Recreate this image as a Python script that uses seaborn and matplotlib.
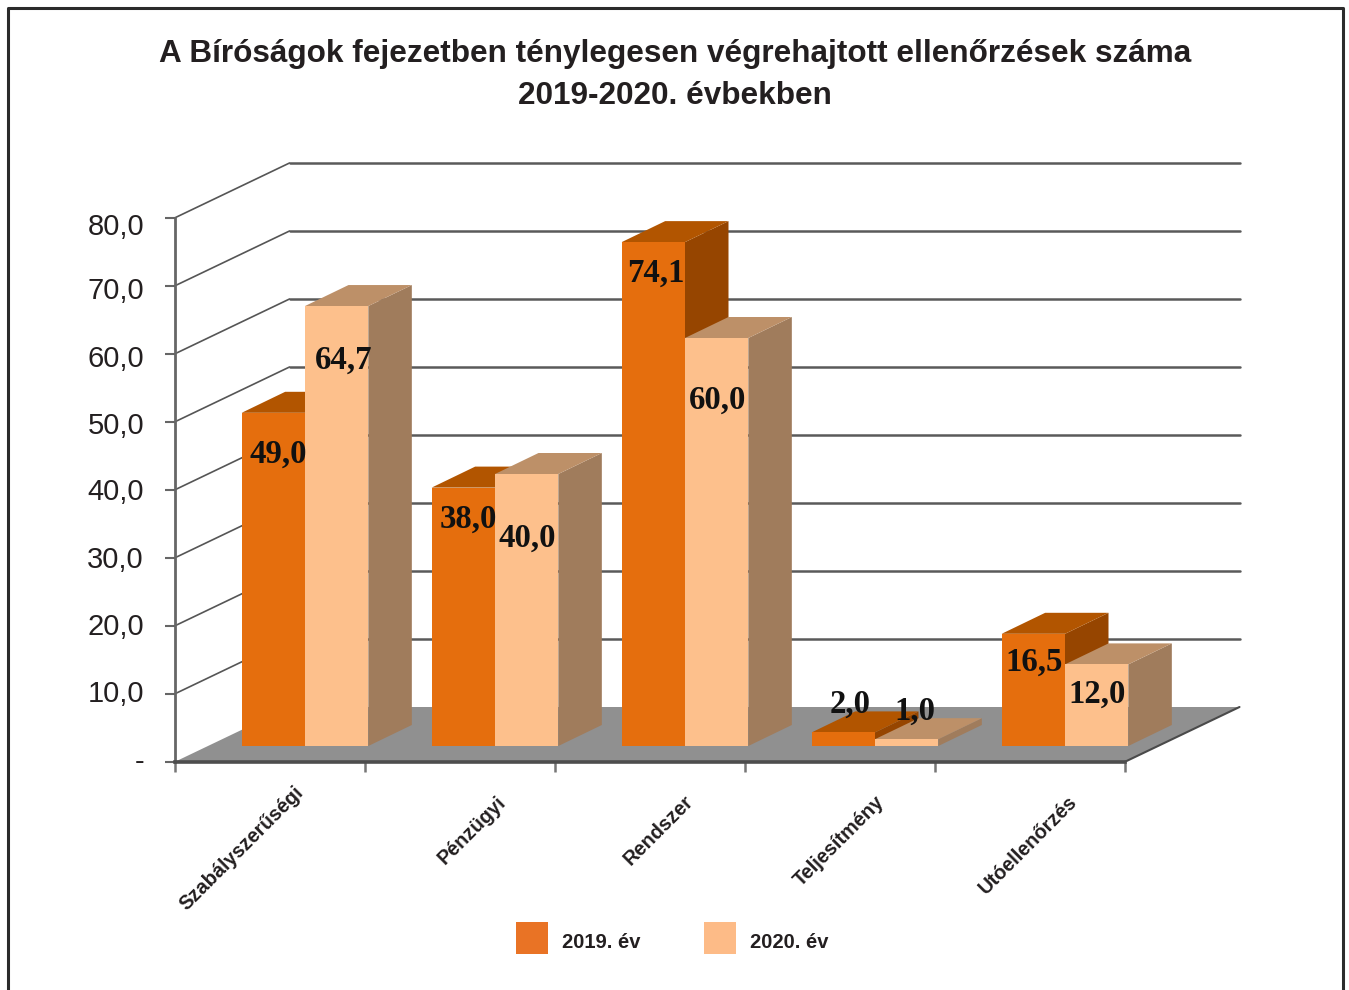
import matplotlib
matplotlib.use("Agg")
import matplotlib.pyplot as plt
from matplotlib.patches import Polygon, Patch
from matplotlib.lines import Line2D
from matplotlib.transforms import ScaledTranslation
import pandas as pd
import seaborn as sns

title_text = "A Bíróságok fejezetben ténylegesen végrehajtott ellenőrzések száma\n2019-2020. évbekben"
categories = ["Szabályszerűségi", "Pénzügyi", "Rendszer", "Teljesítmény", "Utóellenőrzés"]
series_names = ["2019. év", "2020. év"]
values_2019 = [49.0, 38.0, 74.1, 2.0, 16.5]
values_2020 = [64.7, 40.0, 60.0, 1.0, 12.0]
y_ticks = [0, 10, 20, 30, 40, 50, 60, 70, 80]
y_tick_labels = ["-", "10,0", "20,0", "30,0", "40,0", "50,0", "60,0", "70,0", "80,0"]

W, H = 1349, 990
DPI = 100
sns.set_theme(style="white")
plt.rcParams["font.family"] = ["Liberation Sans", "DejaVu Sans"]

fig = plt.figure(figsize=(W / DPI, H / DPI), dpi=DPI, facecolor="white")
L, R, T, B = 174.5, 1124.5, 218, 762
ax = fig.add_axes([L / W, 1 - B / H, (R - L) / W, (B - T) / H], facecolor="none")

df = pd.DataFrame({
    "kategoria": categories * 2,
    "ev": [series_names[0]] * 5 + [series_names[1]] * 5,
    "ertek": values_2019 + values_2020,
})
front_cols = ["#E56E0D", "#FDC08C"]
top_cols = ["#B25500", "#BD9068"]
side_cols = ["#964500", "#A07C5C"]
sns.barplot(data=df, x="kategoria", y="ertek", hue="ev", order=categories,
            hue_order=series_names, palette=front_cols, width=2 / 3, dodge=True,
            saturation=1, legend=False, linewidth=0, ax=ax)
ax.set_xlim(-0.5, 4.5)
ax.set_ylim(0, 80)
ax.set_xlabel("")
ax.set_ylabel("")

PX_X = (R - L) / 5
PX_Y = (B - T) / 80


def dx(px):
    return px / PX_X


def dy(px):
    return px / PX_Y


# floor and back wall
wall_dx, wall_dy = dx(115), dy(55)
ax.add_patch(Polygon([(-0.5, 0), (4.5, 0), (4.5 + wall_dx, wall_dy), (-0.5 + wall_dx, wall_dy)],
                     closed=True, fc="#909090", ec="none", zorder=1, clip_on=False))
ax.plot([4.5, 4.5 + wall_dx], [0, wall_dy], color="#4a4a4a", lw=1.5, zorder=1.2, clip_on=False)
for v in y_ticks[1:]:
    ax.plot([-0.5, -0.5 + wall_dx], [v, v + wall_dy], color="#555555", lw=1.2, zorder=1.2, clip_on=False)
    ax.plot([-0.5 + wall_dx, 4.5 + wall_dx], [v + wall_dy, v + wall_dy], color="#5a5a5a", lw=1.8,
            zorder=1.2, clip_on=False)

# depth faces of the bars
shift = ax.transData + ScaledTranslation(35.5 / DPI, 16 / DPI, fig.dpi_scale_trans)
bar_dx, bar_dy = dx(43.5), dy(21)
for s, container in enumerate(ax.containers):
    for bar in container:
        x0, x1, h = bar.get_x(), bar.get_x() + bar.get_width(), bar.get_height()
        bar.set_transform(shift)
        bar.set_clip_on(False)
        bar.set_zorder(4)
        side = Polygon([(x1, 0), (x1 + bar_dx, bar_dy), (x1 + bar_dx, h + bar_dy), (x1, h)],
                       closed=True, fc=side_cols[s], ec="none", zorder=2 + s * 0.5,
                       transform=shift, clip_on=False)
        top = Polygon([(x0, h), (x1, h), (x1 + bar_dx, h + bar_dy), (x0 + bar_dx, h + bar_dy)],
                      closed=True, fc=top_cols[s], ec="none", zorder=2.1 + s * 0.5,
                      transform=shift, clip_on=False)
        ax.add_patch(side)
        ax.add_patch(top)

# data labels: pixel nudges relative to the top centre of each bar
nudges = [
    [(5, -41), (5, -32), (3, -31), (7, 28), (1, -28)],
    [(6.5, -54), (0.5, -64), (0.5, -62), (8.5, 28), (0.5, -30)],
]
for s, container in enumerate(ax.containers):
    vals = [values_2019, values_2020][s]
    for i, bar in enumerate(container):
        nx, ny = nudges[s][i]
        label = f"{vals[i]:.1f}".replace(".", ",")
        ax.annotate(label, xy=(bar.get_x() + bar.get_width() / 2, bar.get_height()),
                    xycoords=shift, xytext=(nx * 72 / DPI, ny * 72 / DPI),
                    textcoords="offset points", ha="center", va="center",
                    fontfamily="Liberation Serif", fontweight="bold", fontsize=23.6,
                    color="#111111", zorder=6, annotation_clip=False)

# axes furniture
sns.despine(ax=ax, top=True, right=True)
for name, lw, col in (("left", 2, "#666666"), ("bottom", 2.6, "#4d4d4d")):
    ax.spines[name].set_linewidth(lw)
    ax.spines[name].set_color(col)
    ax.spines[name].set_zorder(1.5)
ax.set_yticks(y_ticks, y_tick_labels)
ax.tick_params(axis="y", left=True, length=7, width=1.5, color="#666666", pad=15,
               labelsize=21, labelcolor="#231f20")
y_label_shift = [3, 3, 2, 1, 1, -1, -2, -2, -6]
for lab, sy in zip(ax.get_yticklabels(), y_label_shift):
    lab.set_transform(lab.get_transform() + ScaledTranslation(0, sy / DPI, fig.dpi_scale_trans))
ax.set_xticks(range(5), categories, rotation=45, ha="right", va="center", rotation_mode="anchor",
              fontweight="bold", fontsize=14.4, color="#231f20")
ax.set_xticks([i - 0.5 for i in range(6)], minor=True)
ax.tick_params(axis="x", which="major", bottom=False, length=0, pad=0)
ax.tick_params(axis="x", which="minor", bottom=True, length=7, width=1.8, color="#777777")
label_shift = [(31, -27), (43, -37), (41, -37), (42, -37), (45, -37)]
for lab, (sx, sy) in zip(ax.get_xticklabels(), label_shift):
    lab.set_transform(lab.get_transform() + ScaledTranslation(sx / DPI, sy / DPI, fig.dpi_scale_trans))

# title
fig.text(675 / W, 1 - 75 / H, title_text, ha="center", va="center", fontsize=22.7,
         fontweight="bold", color="#231f20", linespacing=1.5)

# legend
handles = [Patch(fc="#E97325", ec="none"), Patch(fc="#FDBB87", ec="none")]
leg = fig.legend(handles, series_names, loc="center left", bbox_to_anchor=(516 / W, 1 - 938 / H), ncols=2,
                 frameon=False, handlelength=1.59, handleheight=2.06, handletextpad=0.69,
                 columnspacing=3.17, borderaxespad=0, borderpad=0,
                 prop={"weight": "bold", "size": 14.5}, labelcolor="#231f20")
for txt in leg.get_texts():
    txt.set_y(-4)

# outer frame
frame = dict(color="#2b2b2b", lw=2.2, transform=fig.transFigure, solid_capstyle="butt")
fig.add_artist(Line2D([8 / W, 8 / W, 1343 / W, 1343 / W], [0, 1 - 8 / H, 1 - 8 / H, 0], **frame))

fig.savefig("out.png", dpi=DPI, facecolor="white")
